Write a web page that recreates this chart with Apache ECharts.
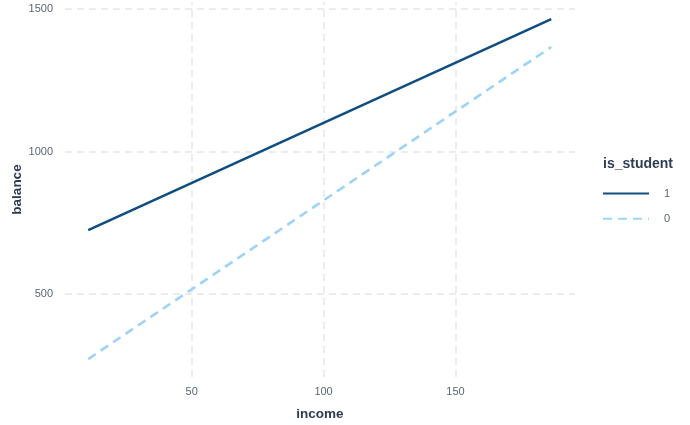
<!DOCTYPE html>
<html><head><meta charset="utf-8">
<script src="https://cdn.jsdelivr.net/npm/echarts@6/dist/echarts.min.js"></script>
<style>html,body{margin:0;padding:0;background:#fff}#c{width:690px;height:425px}</style>
</head><body><div id="c"></div>
<script>
var income = [10.8, 186.3];
var balanceStudent = [724, 1465];
var balanceNonStudent = [271, 1367];
var xTicks = [50, 100, 150];
var yTicks = [500, 1000, 1500];
var seriesNames = ['1', '0'];

function pairs(xs, ys){ return xs.map(function(x,i){ return [x, ys[i]]; }); }
var gridStyle = {color:'#e6e6e6', type:[7,5], width:1.5};
var labelColor = '#5b6676';
var titleColor = '#2e3d52';
var FF = 'Liberation Sans, Arial, sans-serif';
var chart = echarts.init(document.getElementById('c'));
chart.setOption({
  animation:false,
  grid:{left:65, right:115, top:2, bottom:48, containLabel:false, outerBoundsMode:'none'},
  title:{text:'is_student', left:598, top:152, textStyle:{fontFamily:FF, fontSize:14, fontWeight:'bold', color:titleColor}},
  legend:{orient:'vertical', left:597, top:183, itemWidth:46, itemHeight:14, itemGap:14,
    itemStyle:{opacity:0},
    textStyle:{fontFamily:FF, fontSize:11, color:labelColor, padding:[0,0,0,10]},
    data:seriesNames},
  xAxis:{type:'value', min:2.0, max:195.3, name:'income', nameLocation:'middle', nameGap:30, nameMoveOverlap:false,
    nameTextStyle:{fontFamily:FF, fontSize:13.5, fontWeight:'bold', color:titleColor},
    axisLine:{show:false}, axisTick:{show:false}, splitLine:{show:false},
    axisLabel:{customValues:xTicks, margin:9, fontFamily:FF, fontSize:11, color:labelColor, formatter:function(v){return String(v);}}},
  yAxis:{type:'value', min:208, max:1525, name:'balance', nameLocation:'middle', nameGap:41, nameRotate:90, nameMoveOverlap:false,
    nameTextStyle:{fontFamily:FF, fontSize:13.5, fontWeight:'bold', color:titleColor},
    axisLine:{show:false}, axisTick:{show:false}, splitLine:{show:false},
    axisLabel:{customValues:yTicks, margin:12, fontFamily:FF, fontSize:11, color:labelColor, formatter:function(v){return String(v);}}},
  series:[
    {name:'grid', type:'line', data:[], silent:true,
      markLine:{silent:true, symbol:['none','none'], label:{show:false}, lineStyle:gridStyle,
        data: xTicks.map(function(v){return {xAxis:v};}).concat(yTicks.map(function(v){return {yAxis:v};}))}},
    {name:seriesNames[0], type:'line', data:pairs(income, balanceStudent), symbol:'none', z:5,
      lineStyle:{color:'#104e80', width:2.6}, itemStyle:{color:'#104e80'}},
    {name:seriesNames[1], type:'line', data:pairs(income, balanceNonStudent), symbol:'none', z:5,
      lineStyle:{color:'#9dd3f8', width:2.6, type:[9,6]}, itemStyle:{color:'#9dd3f8'}}
  ]
});
</script></body></html>
